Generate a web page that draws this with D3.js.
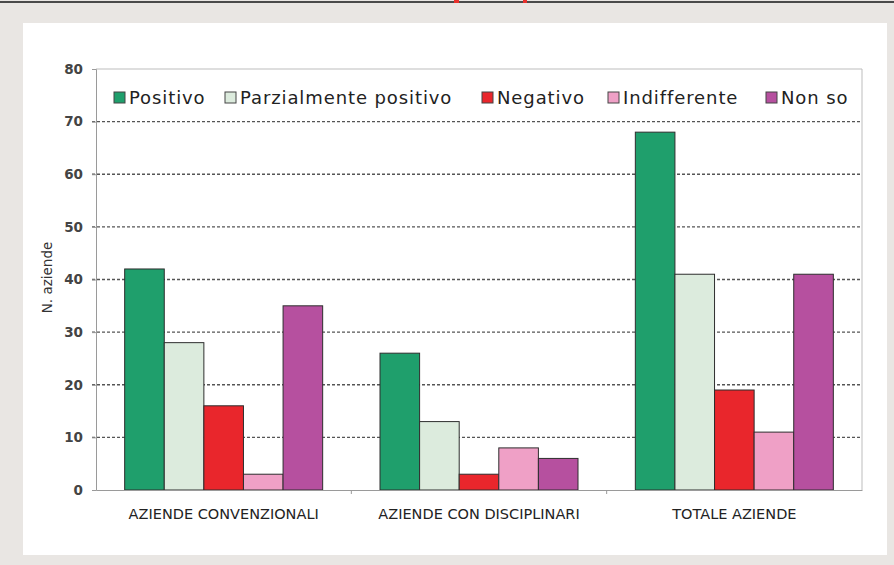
<!DOCTYPE html>
<html>
<head>
<meta charset="utf-8">
<script src="https://cdn.jsdelivr.net/npm/d3@7"></script>
<style>
  html, body { margin: 0; padding: 0; background: #e9e6e3; }
  svg { display: block; }
  .tick text { font-family: "DejaVu Sans", Verdana, sans-serif; }
</style>
</head>
<body>
<svg id="chart" width="894" height="565"></svg>
<script>
// categories / series
const categories = ['AZIENDE CONVENZIONALI', 'AZIENDE CON DISCIPLINARI', 'TOTALE AZIENDE'];
const seriesNames = ['Positivo', 'Parzialmente positivo', 'Negativo', 'Indifferente', 'Non so'];
const positivo = [42, 26, 68];
const parzialmente = [28, 13, 41];
const negativo = [16, 3, 19];
const indifferente = [3, 8, 11];
const nonSo = [35, 6, 41];
const yTicks = [0, 10, 20, 30, 40, 50, 60, 70, 80];

const seriesValues = [positivo, parzialmente, negativo, indifferente, nonSo];
const colors = ['#1f9f6c', '#dcebdd', '#e9262c', '#efa0c6', '#b6509f'];

const svg = d3.select('#chart');

// page frame
svg.append('rect').attr('x', 0).attr('y', 0).attr('width', 894).attr('height', 565).attr('fill', '#e9e6e3');
svg.append('rect').attr('x', 0).attr('y', 1).attr('width', 894).attr('height', 2).attr('fill', '#4a4a4a');
svg.append('rect').attr('x', 454).attr('y', 0).attr('width', 5).attr('height', 3).attr('fill', '#e8302c');
svg.append('rect').attr('x', 523).attr('y', 0).attr('width', 4).attr('height', 3).attr('fill', '#e8302c');
svg.append('rect').attr('x', 23).attr('y', 23).attr('width', 864).attr('height', 532).attr('fill', '#ffffff');

const M = { left: 96, right: 862, top: 69, bottom: 490 };

const x = d3.scaleBand().domain(categories).range([M.left, M.right]).paddingInner(0).paddingOuter(0);
const groupW = 198;
const xs = d3.scaleBand().domain(seriesNames).range([0, groupW]).padding(0);
const y = d3.scaleLinear().domain([0, 80]).range([M.bottom, M.top]);

// grid
svg.append('g').selectAll('line').data(yTicks.filter((t) => t > 0 && t < 80)).join('line')
  .attr('x1', M.left - 4).attr('x2', M.right)
  .attr('y1', (d) => y(d)).attr('y2', (d) => y(d))
  .attr('stroke', '#555').attr('stroke-width', 1.3).attr('stroke-dasharray', '3,2');

// plot frame (top + right)
svg.append('path')
  .attr('d', `M${M.left},${M.top}H${M.right}V${M.bottom}`)
  .attr('fill', 'none').attr('stroke', '#bdbdbd').attr('stroke-width', 1);

// bars
categories.forEach((cat, ci) => {
  const gx = x(cat) + (x.bandwidth() - groupW) / 2;
  svg.append('g').attr('transform', `translate(${gx},0)`)
    .selectAll('rect').data(seriesNames).join('rect')
    .attr('x', (s) => xs(s))
    .attr('width', xs.bandwidth())
    .attr('y', (s, i) => y(seriesValues[i][ci]))
    .attr('height', (s, i) => y(0) - y(seriesValues[i][ci]))
    .attr('fill', (s, i) => colors[i])
    .attr('stroke', '#2e2e2e').attr('stroke-width', 1);
});

// y axis
const yAxis = svg.append('g').attr('transform', `translate(${M.left},0)`)
  .call(d3.axisLeft(y).tickValues(yTicks).tickSize(4).tickPadding(9));
yAxis.select('.domain').attr('stroke', '#9a9a9a');
yAxis.selectAll('.tick line').attr('stroke', '#9a9a9a');
yAxis.selectAll('.tick text').attr('font-size', 13.5).attr('font-weight', 'bold').attr('fill', '#444');

// x axis
const xAxis = svg.append('g').attr('transform', `translate(0,${M.bottom})`)
  .call(d3.axisBottom(x).tickSize(0).tickPadding(19));
xAxis.select('.domain').attr('stroke', '#9a9a9a');
xAxis.selectAll('.tick text')
  .attr('font-family', '"Liberation Sans Narrow", "Arial Narrow", sans-serif')
  .attr('font-size', 14.5).attr('fill', '#222');
svg.append('g').selectAll('line').data(categories.slice(1)).join('line')
  .attr('x1', (d) => x(d)).attr('x2', (d) => x(d))
  .attr('y1', M.bottom).attr('y2', M.bottom + 4)
  .attr('stroke', '#9a9a9a');

// y label
svg.append('text')
  .attr('transform', `translate(52,${(M.top + M.bottom) / 2 - 2}) rotate(-90)`)
  .attr('text-anchor', 'middle')
  .attr('font-family', '"DejaVu Sans", Verdana, sans-serif')
  .attr('font-size', 13.5).attr('fill', '#333')
  .text('N. aziende');

// legend
const legendX = [114, 225, 482, 608, 766];
const legend = svg.append('g').attr('font-family', '"DejaVu Sans", Verdana, sans-serif')
  .attr('font-size', 18).attr('letter-spacing', 0.9);
seriesNames.forEach((s, i) => {
  legend.append('rect').attr('x', legendX[i]).attr('y', 92).attr('width', 11).attr('height', 11)
    .attr('fill', colors[i]).attr('stroke', '#444').attr('stroke-width', 1);
  legend.append('text').attr('x', legendX[i] + 15).attr('y', 104).attr('fill', '#222').text(s);
});
</script>
</body>
</html>
